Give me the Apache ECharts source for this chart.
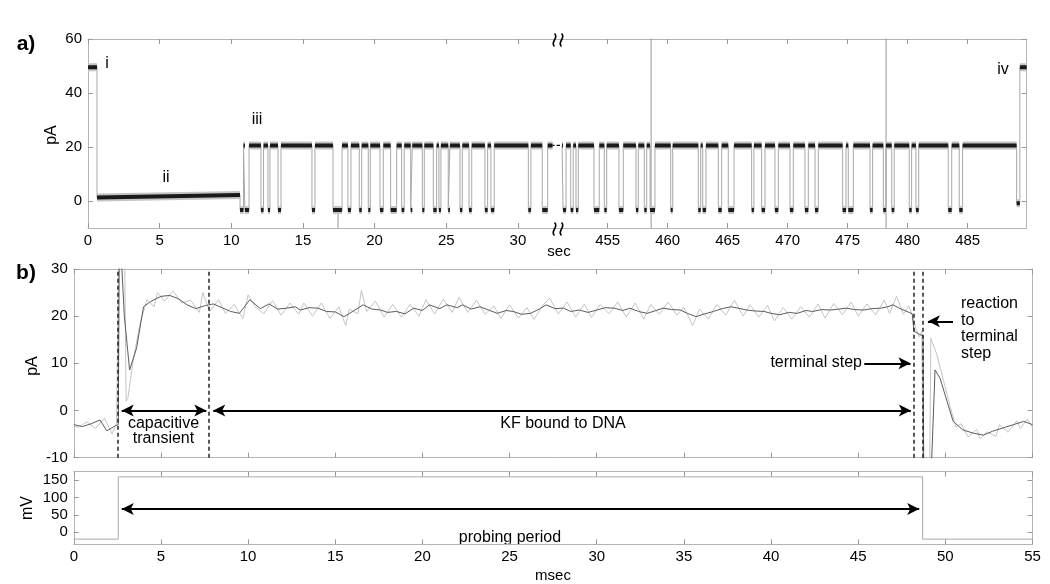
<!DOCTYPE html>
<html>
<head>
<meta charset="utf-8">
<script src="https://cdn.jsdelivr.net/npm/echarts@6/dist/echarts.min.js"></script>
<style>
html, body { margin: 0; padding: 0; background: #fff; }
#main { width: 1050px; height: 584px; }
</style>
</head>
<body>
<div id="main"></div>
<script>
"use strict";

// ---- panel a: current levels (pA) ----
var LEVEL_I = 49.5;       // open pore (i)
var LEVEL_II = [1.3, 2.2]; // DNA captured, start/end (ii)
var LEVEL_HIGH = 20.6;    // KF bound (iii)
var LEVEL_LOW = -3.3;
var LEVEL_END = -0.8;
var LEVEL_IV = 49.5;      // open pore again (iv)

// ---- panel a: time points (sec) ----
var openEnd = 0.63;
var captureEnd = 10.61;
var leftTraceEnd = 32.42;
var leftBreak = 32.8;
var rightBreak = 450.86;
var rightTraceStart = 451.2;
var rightLastHigh = 489.08;
var rightEndDrop = 489.35;
var rightMax = 489.92;

// low-state intervals [start, end] before the axis break
var leftDips = [
  [10.61, 10.85], [10.95, 11.24], [12.07, 12.25], [12.56, 12.70], [13.26, 13.47],
  [15.63, 15.84], [17.10, 17.73], [18.14, 18.35], [18.93, 19.10], [19.56, 19.70],
  [20.38, 20.61], [21.12, 21.54], [21.89, 22.07], [22.52, 22.63], [23.33, 23.47],
  [24.10, 24.33], [24.49, 24.63], [25.14, 25.26], [25.96, 26.12], [26.59, 26.78],
  [27.70, 27.89], [28.12, 28.35], [30.73, 30.91], [31.70, 32.08]
];
// low-state intervals after the axis break
var rightDips = [
  [451.28, 451.53], [451.92, 452.13], [452.36, 452.55], [453.86, 454.30], [454.72, 454.92],
  [455.94, 456.30], [457.36, 457.55], [458.05, 458.25], [458.53, 458.94], [460.25, 460.42],
  [462.55, 462.75], [462.92, 463.19], [464.22, 464.50], [465.05, 465.53], [467.00, 467.19],
  [467.83, 468.11], [468.94, 469.22], [470.19, 470.47], [471.44, 471.72], [472.28, 472.55],
  [474.58, 474.86], [475.05, 475.47], [476.86, 477.08], [477.97, 478.19], [478.67, 478.88],
  [480.13, 480.33], [480.69, 480.92], [483.38, 483.67], [484.30, 484.58]
];
// single-sample spikes [time, from, to]
var leftSpikes = [[17.45, LEVEL_LOW, -12]];
var rightSpikes = [[458.62, -12, 62], [478.2, -12, 62]];

var secLeftTicks = [0, 5, 10, 15, 20, 25, 30];
var secRightTicks = [455, 460, 465, 470, 475, 480, 485];
var pAaTicks = [0, 20, 40, 60];

// ---- panel b: current (pA) vs msec ----
var filtered = [
  [0, -3.0], [0.5, -3.4], [1.0, -2.8], [1.5, -2.0], [1.9, -4.3], [2.4, -3.2], [2.55, -3.0],
  [2.62, 40], [2.9, 20], [3.2, 8.6], [3.6, 13.2], [4.0, 22.0], [4.4, 23.1], [5.0, 24.2],
  [5.5, 24.4], [6.0, 23.7], [6.5, 22.4], [7.0, 21.6], [7.5, 22.2], [8.0, 22.6], [8.5, 21.8],
  [9.0, 21.0], [9.5, 20.6], [10.1, 23.5], [10.7, 21.6], [11.2, 22.6], [11.7, 21.5], [12.2, 21.7],
  [12.7, 22.0], [13.0, 21.3], [13.5, 21.8], [14.0, 21.7], [14.5, 21.0], [15.0, 20.9], [15.5, 19.9],
  [16.0, 21.0], [16.6, 22.4], [17.1, 21.5], [17.6, 21.3], [18.0, 20.8], [18.5, 21.0], [19.0, 20.5],
  [19.5, 21.7], [20.0, 21.2], [20.4, 22.4], [21.0, 21.6], [21.4, 22.4], [22.0, 21.8], [22.3, 22.4],
  [22.8, 21.5], [23.3, 22.0], [23.8, 21.3], [24.3, 20.6], [24.8, 21.2], [25.2, 21.0], [25.7, 20.4],
  [26.2, 20.6], [26.7, 21.5], [27.1, 22.4], [27.6, 21.6], [28.1, 21.7], [28.5, 21.0], [29.0, 21.3],
  [29.5, 20.8], [30.0, 21.3], [30.5, 21.8], [31.0, 21.7], [31.5, 21.2], [31.9, 21.7], [32.4, 21.0],
  [32.9, 20.6], [33.4, 21.2], [33.8, 21.7], [34.3, 21.4], [34.8, 21.3], [35.2, 20.6], [35.7, 19.9],
  [36.2, 20.5], [36.7, 21.0], [37.2, 21.6], [37.7, 22.0], [38.1, 21.7], [38.6, 21.3], [39.1, 21.1],
  [39.6, 21.0], [40.0, 20.6], [40.5, 20.3], [41.0, 20.8], [41.5, 20.6], [42.0, 21.2], [42.4, 21.0],
  [42.9, 21.4], [43.4, 21.3], [43.9, 21.5], [44.3, 21.7], [44.8, 21.4], [45.3, 21.3], [45.8, 21.6],
  [46.3, 21.7], [46.7, 22.0], [47.0, 22.4], [47.4, 21.6], [47.8, 21.0], [48.1, 20.5], [48.2, 16.8],
  [48.4, 16.4], [48.6, 16.0], [48.72, 15.8], [48.76, -12], [49.2, -12], [49.41, 8.6], [49.7, 6.8],
  [50.1, 1.9], [50.45, -2.3], [51.0, -4.1], [51.6, -4.8], [52.2, -5.2], [52.7, -4.4], [53.3, -3.7],
  [53.9, -3.0], [54.5, -2.3], [55.0, -3.0]
];
var raw = [
  [0, -3.2], [0.25, -3.6], [0.75, -2.4], [1.25, -3.8], [1.75, -1.6], [2.2, -5.0], [2.45, -2.6],
  [2.55, -3.0], [2.6, 40], [2.9, 40], [3.0, 2.0], [3.1, 2.6], [3.4, 10.5], [3.8, 18.5], [4.2, 23.5],
  [4.6, 22.0], [4.8, 25.0], [5.2, 23.2], [5.7, 25.3], [6.2, 22.8], [6.7, 23.4], [7.2, 20.8],
  [7.4, 25.0], [7.8, 21.0], [8.3, 23.5], [8.7, 20.6], [9.2, 22.5], [9.7, 19.5], [10.0, 24.5],
  [10.4, 22.0], [10.9, 20.5], [11.4, 23.3], [11.9, 20.2], [12.4, 22.8], [12.9, 20.4], [13.2, 22.8],
  [13.7, 20.0], [14.2, 22.8], [14.7, 19.5], [15.2, 22.0], [15.6, 18.0], [15.8, 21.5], [16.3, 20.5],
  [16.5, 25.5], [16.8, 21.0], [17.3, 23.2], [17.8, 19.8], [18.3, 22.5], [18.8, 19.8], [19.3, 22.5],
  [19.8, 20.0], [20.2, 23.5], [20.7, 20.5], [21.2, 23.6], [21.7, 20.8], [22.1, 24.0], [22.6, 20.8],
  [23.1, 23.4], [23.6, 20.4], [24.1, 22.2], [24.5, 19.5], [25.0, 22.4], [25.5, 19.6], [26.0, 21.8],
  [26.4, 19.3], [26.9, 22.3], [27.3, 23.8], [27.8, 20.5], [28.3, 23.0], [28.8, 19.8], [29.3, 22.6],
  [29.7, 19.7], [30.2, 22.5], [30.7, 20.5], [31.2, 23.0], [31.7, 19.8], [32.2, 22.8], [32.7, 19.4],
  [33.1, 22.5], [33.6, 20.4], [34.1, 23.0], [34.6, 20.2], [35.0, 21.9], [35.5, 18.0], [35.9, 21.5],
  [36.4, 19.4], [36.9, 22.5], [37.4, 20.2], [37.9, 23.4], [38.4, 20.0], [38.8, 22.4], [39.3, 19.8],
  [39.8, 22.3], [40.2, 19.0], [40.7, 21.8], [41.2, 19.4], [41.7, 22.0], [42.2, 19.8], [42.7, 22.6],
  [43.1, 19.6], [43.6, 22.7], [44.1, 20.3], [44.6, 23.0], [45.0, 20.0], [45.5, 22.6], [46.0, 20.3],
  [46.5, 23.4], [46.8, 20.6], [47.2, 24.2], [47.6, 20.4], [47.9, 22.2], [48.15, 19.8], [48.3, 17.5],
  [48.5, 15.6], [48.65, 16.8], [48.72, -12], [49.1, -12], [49.17, 15.3], [49.5, 12.0], [49.9, 6.3],
  [50.3, 0.5], [50.6, -3.5], [50.9, -2.8], [51.3, -5.6], [51.8, -4.0], [52.0, -6.0], [52.4, -4.5],
  [52.9, -5.5], [53.1, -3.0], [53.6, -4.6], [54.1, -2.2], [54.3, -3.8], [54.7, -1.8], [55.0, -3.6]
];
var eventLines = [2.55, 7.77, 48.17, 48.7];
var msecTicks = [0, 5, 10, 15, 20, 25, 30, 35, 40, 45, 50, 55];
var pAbTicks = [-10, 0, 10, 20, 30];

// ---- panel c: applied voltage (mV) ----
var voltTimes = [0, 2.55, 2.55, 48.7, 48.7, 55];
var voltValues = [-20, -20, 160, 160, -20, -20];
var mVTicks = [0, 50, 100, 150];

var FONT = 'Liberation Sans, Arial, sans-serif';

// high/low segments from a dip list
function dipSegments(dips, tStart, tEnd) {
  var segs = [];
  if (tStart !== null) segs.push([tStart, dips[0][0], LEVEL_HIGH]);
  for (var i = 0; i < dips.length; i++) {
    segs.push([dips[i][0], dips[i][1], LEVEL_LOW]);
    var next = i < dips.length - 1 ? dips[i + 1][0] : tEnd;
    segs.push([dips[i][1], next, LEVEL_HIGH]);
  }
  return segs;
}

// step line (thin transitions) and plateau band (thick, broken between segments)
function buildTrace(segs) {
  var step = [], band = [];
  segs.forEach(function (s) {
    var v1 = s.length > 3 ? s[3] : s[2];
    step.push([s[0], s[2]], [s[1], v1]);
    band.push([s[0], s[2]], [s[1], v1], [s[1], null]);
  });
  return {step: step, band: band};
}

function spikeData(spikes) {
  var out = [];
  spikes.forEach(function (s) {
    out.push([s[0], s[1]], [s[0], s[2]], [s[0], null]);
  });
  return out;
}

var leftSegs = [[0, openEnd, LEVEL_I], [openEnd, captureEnd, LEVEL_II[0], LEVEL_II[1]]]
  .concat(dipSegments(leftDips, null, leftTraceEnd));
var rightSegs = dipSegments(rightDips, rightTraceStart, rightLastHigh)
  .concat([[rightLastHigh, rightEndDrop, LEVEL_END], [rightEndDrop, rightMax, LEVEL_IV]]);
var leftTrace = buildTrace(leftSegs);
var rightTrace = buildTrace(rightSegs);

var voltData = voltTimes.map(function (t, i) { return [t, voltValues[i]]; });

// ---- axis helpers ----
var lineCol = '#b4b4b4';
function xAx(grid, pos, min, max, ticks, labels) {
  return {
    type: 'value', gridIndex: grid, position: pos, min: min, max: max,
    axisLine: {show: true, onZero: false, lineStyle: {color: lineCol, width: 1}},
    axisTick: {show: true, inside: true, length: 5, customValues: ticks, lineStyle: {color: '#999'}},
    axisLabel: {show: labels, customValues: ticks, color: '#000', fontSize: 15, fontFamily: FONT, margin: 5},
    splitLine: {show: false}
  };
}
function yAx(grid, pos, min, max, ticks, labels) {
  return {
    type: 'value', gridIndex: grid, position: pos, min: min, max: max,
    axisLine: {show: true, onZero: false, lineStyle: {color: lineCol, width: 1}},
    axisTick: {show: true, inside: true, length: 5, customValues: ticks, lineStyle: {color: '#999'}},
    axisLabel: {show: labels, customValues: ticks, color: '#000', fontSize: 15, fontFamily: FONT, margin: 6},
    splitLine: {show: false}
  };
}

function arrowPair(x0, y0, x1, y1, both) {
  return [
    {coord: [x0, y0], symbol: both ? 'arrow' : 'none', symbolSize: [9, 12]},
    {coord: [x1, y1], symbol: 'arrow', symbolSize: [9, 12]}
  ];
}
var arrowStyle = {color: '#000', width: 2, type: 'solid'};

function txt(x, y, text, opt) {
  opt = opt || {};
  return {
    type: 'text', x: x, y: y, rotation: opt.rot || 0, silent: true,
    style: {
      text: text, fill: '#000', fontSize: opt.size || 16, fontFamily: FONT,
      fontWeight: opt.bold ? 'bold' : 'normal',
      align: opt.align || 'center', verticalAlign: opt.va || 'middle',
      lineHeight: opt.lh || 16
    }
  };
}

// axis-break mark: two wavy strokes centred on (cx, cy)
function breakMark(cx, cy) {
  return [-3.5, 3.5].map(function (dx) {
    var x = cx + dx;
    return {
      type: 'bezierCurve', silent: true, z: 100,
      shape: {x1: x, y1: cy - 6.5, cpx1: x + 5, cpy1: cy - 2, cpx2: x - 5, cpy2: cy + 2, x2: x, y2: cy + 6.5},
      style: {stroke: '#000', lineWidth: 1.6, fill: null}
    };
  });
}

var chart = echarts.init(document.getElementById('main'));

var option = {
  animation: false,
  backgroundColor: '#fff',
  grid: [
    {left: 88, top: 39, width: 470, height: 189},
    {left: 558, top: 39, width: 468.7, height: 189},
    {left: 73.8, top: 269, width: 958.7, height: 188.7},
    {left: 73.8, top: 471.7, width: 958.7, height: 72.6}
  ],
  xAxis: [
    xAx(0, 'bottom', 0, leftBreak, secLeftTicks, true),
    xAx(0, 'top', 0, leftBreak, secLeftTicks, false),
    xAx(1, 'bottom', rightBreak, rightMax, secRightTicks, true),
    xAx(1, 'top', rightBreak, rightMax, secRightTicks, false),
    xAx(2, 'bottom', 0, 55, msecTicks, false),
    xAx(2, 'top', 0, 55, msecTicks, false),
    xAx(3, 'bottom', 0, 55, msecTicks, true),
    xAx(3, 'top', 0, 55, msecTicks, false)
  ],
  yAxis: [
    yAx(0, 'left', -10, 60, pAaTicks, true),
    yAx(1, 'right', -10, 60, pAaTicks, false),
    yAx(2, 'left', -10, 30, pAbTicks, true),
    yAx(2, 'right', -10, 30, pAbTicks, false),
    yAx(3, 'left', -35, 175, mVTicks, true),
    yAx(3, 'right', -35, 175, mVTicks, false)
  ],
  series: [
    // panel a, before break
    {type: 'line', xAxisIndex: 0, yAxisIndex: 0, data: leftTrace.step, showSymbol: false,
      lineStyle: {color: '#a8a8a8', width: 1}, silent: true},
    {type: 'line', xAxisIndex: 0, yAxisIndex: 0, data: spikeData(leftSpikes), showSymbol: false,
      lineStyle: {color: '#999', width: 1}, silent: true},
    {type: 'line', xAxisIndex: 0, yAxisIndex: 0, data: leftTrace.band, showSymbol: false,
      connectNulls: false, lineStyle: {color: '#c4c4c4', width: 8}, silent: true},
    {type: 'line', xAxisIndex: 0, yAxisIndex: 0, data: leftTrace.band, showSymbol: false,
      connectNulls: false, lineStyle: {color: '#1a1a1a', width: 4}, silent: true},
    {type: 'line', xAxisIndex: 0, yAxisIndex: 0, data: [[leftTraceEnd, LEVEL_HIGH], [leftBreak, LEVEL_HIGH]],
      showSymbol: false, lineStyle: {color: '#000', width: 1.2, type: [2, 2]}, silent: true},
    // panel a, after break
    {type: 'line', xAxisIndex: 2, yAxisIndex: 1, data: rightTrace.step, showSymbol: false,
      lineStyle: {color: '#a8a8a8', width: 1}, silent: true},
    {type: 'line', xAxisIndex: 2, yAxisIndex: 1, data: spikeData(rightSpikes), showSymbol: false,
      lineStyle: {color: '#999', width: 1}, silent: true},
    {type: 'line', xAxisIndex: 2, yAxisIndex: 1, data: rightTrace.band, showSymbol: false,
      connectNulls: false, lineStyle: {color: '#c4c4c4', width: 8}, silent: true},
    {type: 'line', xAxisIndex: 2, yAxisIndex: 1, data: rightTrace.band, showSymbol: false,
      connectNulls: false, lineStyle: {color: '#1a1a1a', width: 4}, silent: true},
    {type: 'line', xAxisIndex: 2, yAxisIndex: 1, data: [[rightBreak, LEVEL_HIGH], [rightTraceStart, LEVEL_HIGH]],
      showSymbol: false, lineStyle: {color: '#000', width: 1.2, type: [2, 2]}, silent: true},
    // panel b
    {type: 'line', xAxisIndex: 4, yAxisIndex: 2, data: raw, showSymbol: false,
      lineStyle: {color: '#c4c4c4', width: 1}, silent: true},
    {type: 'line', xAxisIndex: 4, yAxisIndex: 2, data: filtered, showSymbol: false,
      lineStyle: {color: '#5c5c5c', width: 1}, silent: true,
      markLine: {
        silent: true, symbol: ['none', 'none'], label: {show: false},
        data: eventLines.map(function (t) {
          return {xAxis: t, lineStyle: {color: '#222', width: 1.5, type: [4, 3]}};
        }).concat([
          arrowPair(2.75, 0, 7.6, 0, true),
          arrowPair(8.0, 0, 48.02, 0, true),
          arrowPair(45.35, 10, 48.0, 10, false),
          arrowPair(50.44, 18.9, 49.0, 18.9, false)
        ]),
        lineStyle: arrowStyle
      }},
    // panel c
    {type: 'line', xAxisIndex: 6, yAxisIndex: 4, data: voltData, showSymbol: false,
      lineStyle: {color: '#a8a8a8', width: 1}, silent: true,
      markLine: {
        silent: true, symbol: ['none', 'none'], label: {show: false},
        data: [arrowPair(2.75, 67, 48.5, 67, true)],
        lineStyle: arrowStyle
      }}
  ],
  graphic: [
    txt(26, 44, 'a)', {bold: true, size: 21}),
    txt(26, 273, 'b)', {bold: true, size: 21}),
    txt(52, 135, 'pA', {rot: Math.PI / 2}),
    txt(33, 366, 'pA', {rot: Math.PI / 2}),
    txt(28, 508, 'mV', {rot: Math.PI / 2}),
    txt(559, 252, 'sec', {size: 15}),
    txt(553, 576, 'msec', {size: 15}),
    txt(107, 64, 'i'),
    txt(166, 178, 'ii'),
    txt(257, 120, 'iii'),
    txt(1003, 70, 'iv'),
    txt(163.5, 431, 'capacitive\ntransient', {lh: 14.5}),
    txt(563, 424, 'KF bound to DNA'),
    txt(862, 363, 'terminal step', {align: 'right'}),
    txt(961, 295, 'reaction\nto\nterminal\nstep', {align: 'left', va: 'top', lh: 16.8}),
    txt(510, 538, 'probing period')
  ].concat(breakMark(558, 40), breakMark(558, 229))
};

chart.setOption(option);
</script>
</body>
</html>
